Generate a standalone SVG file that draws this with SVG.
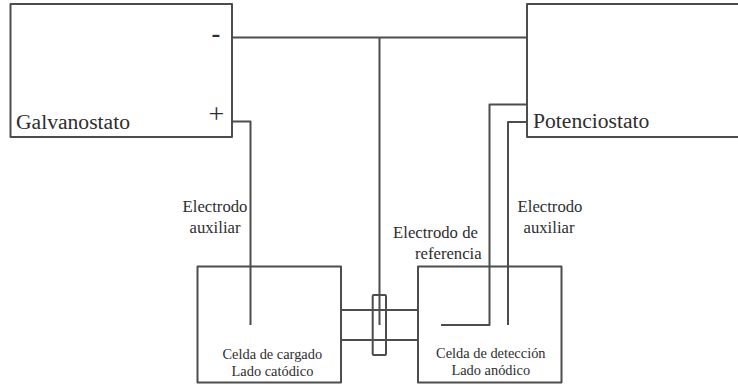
<svg xmlns="http://www.w3.org/2000/svg" width="738" height="389" viewBox="0 0 738 389">
<style>
.b{fill:none;stroke:#4d4d4d;stroke-width:2;stroke-linejoin:round}
text{font-family:"Liberation Serif","Times New Roman",serif;fill:#2e2e2e}
.m{font-size:21.6px}
.l{font-size:16.7px;text-anchor:middle}
.c{font-size:14.4px;text-anchor:middle}
</style>
<rect width="738" height="389" fill="#fff"/>
<g id="connectors" class="b">
<path d="M232 37.5H527"/>
<path d="M379.5 37.5V325"/>
<path d="M232 121.5H250.5V325"/>
<path d="M527 104.5H489.5V325H441"/>
<path d="M527 122H508V325"/>
<path d="M341 310H418"/>
<path d="M341 340H418"/>
</g>
<g id="galvanostato"><rect class="b" x="10.5" y="4" width="221.5" height="133"/>
<text class="m" x="16" y="129">Galvanostato</text>
<text x="216" y="42.5" font-size="28" text-anchor="middle" style="font-family:'Liberation Sans',sans-serif">-</text>
<text x="216.5" y="123" font-size="28" text-anchor="middle">+</text></g>
<g id="potenciostato"><path class="b" d="M738 4H527V137H738"/>
<text class="m" x="533" y="128">Potenciostato</text></g>
<g id="celda-cargado"><rect class="b" x="197.5" y="266.5" width="143.5" height="116"/>
<text class="c" x="272.3" y="359">Celda de cargado</text>
<text class="c" x="272.5" y="376">Lado catódico</text></g>
<g id="celda-deteccion"><rect class="b" x="418" y="266.5" width="143.5" height="116"/>
<text class="c" x="490.8" y="357.7">Celda de detección</text>
<text class="c" x="490.8" y="375">Lado anódico</text></g>
<g id="puente"><rect class="b" x="372.7" y="295" width="13.3" height="60" rx="1"/></g>
<g id="etiquetas">
<text class="l" x="215" y="212">Electrodo</text>
<text class="l" x="215" y="233">auxiliar</text>
<text class="l" x="435.5" y="238">Electrodo de</text>
<text class="l" x="448.3" y="259">referencia</text>
<text class="l" x="550" y="212">Electrodo</text>
<text class="l" x="549" y="233">auxiliar</text>
</g>
</svg>
